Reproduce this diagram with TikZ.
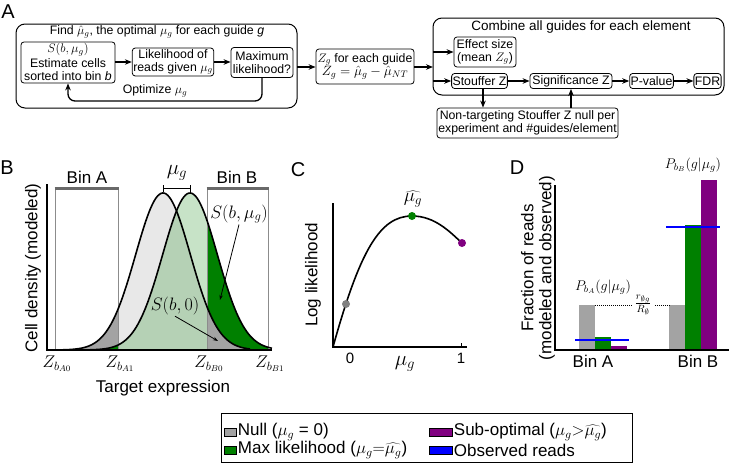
\RequirePackage{fix-cm}
\documentclass[tikz,border=0pt]{standalone}
\usepackage{fontspec}
\setmainfont{Liberation Sans}
\usetikzlibrary{arrows.meta}
\definecolor{dgreen}{RGB}{0,128,0}
\definecolor{dpurple}{RGB}{128,0,128}
\definecolor{mgray}{RGB}{163,163,163}
\definecolor{lgray}{RGB}{232,232,232}
\definecolor{bingray}{RGB}{105,105,105}
\definecolor{vgray}{RGB}{140,140,140}
\newcommand\fsz[2]{\fontsize{#1}{#2}\selectfont}
\begin{document}
\begin{tikzpicture}[x=1pt,y=-1pt,
  box/.style={draw, rounded corners=3pt, line width=0.8pt, align=center, inner sep=1pt, font=\fsz{12.3}{12.8}},
  outerbox/.style={draw, rounded corners=9pt, line width=1pt},
  arr/.style={-{Stealth[length=7pt,width=5.5pt]}, line width=1.3pt},
  thinarr/.style={-{Stealth[length=5pt,width=3.5pt]}, line width=0.8pt},
  plab/.style={font=\fsz{20}{20}},
  axlab/.style={font=\fsz{17}{18}},
  leglab/.style={font=\fsz{17}{17}},
  curve/.style={line width=1.6pt},
  declare function={gA(\x)=157*exp(-0.5*((\x-163)/27.4)^2); gB(\x)=157*exp(-0.5*((\x-190)/27.4)^2);}
]
\useasboundingbox (0,0) rectangle (729,463);

% ================= Panel A =================
\node[plab] (labA) at (8,12) {A};
\draw[outerbox] (16,24) rectangle (297,108);
\coordinate (o1e) at (297,67);
\node[font=\fsz{12.3}{13}, inner sep=1pt] (title1) at (157,32) {Find $\hat\mu_g$, the optimal $\mu_g$ for each guide \textit{g}};
\node[box, minimum width=94pt, minimum height=41pt] (est) at (68,62.5) {};
\node[font=\fsz{12.5}{12.5}, inner sep=0pt] (estS) at (68,49.5) {$S(b,\mu_g)$};
\node[font=\fsz{12.3}{12.8}, align=center, inner sep=0pt] (estT) at (68,69.5) {Estimate cells\\sorted into bin \textit{b}};
\node[box, minimum width=80pt, minimum height=28pt] (lik) at (173,62) {Likelihood of\\reads given $\mu_g$};
\node[box, minimum width=62pt, minimum height=30pt] (maxl) at (262,62.5) {Maximum\\likelihood?};
\draw[arr] (est.east |- lik.west) -- (lik.west);
\draw[arr] (lik.east) -- (maxl.west |- lik.east);
\coordinate (fb) at (68,101);
\draw[arr, rounded corners=7pt] (maxl.south) |- (fb) -- (est.south);
\node[font=\fsz{12.3}{13}] (opt) at (155,91) {Optimize $\mu_g$};

\node[box, minimum width=98pt, minimum height=35pt] (zg) at (365,66.5) {$Z_g$ for each guide\\{\fsz{13.5}{14}$Z_g=\hat\mu_g-\hat\mu_{NT}$}};
\draw[arr] (o1e) -- (zg.west |- o1e);

\draw[outerbox] (433,18) rectangle (724,95);
\coordinate (o2w) at (433,67);
\node[font=\fsz{13.5}{14}] (title2) at (581,27) {Combine all guides for each element};
\node[box, minimum width=62pt, minimum height=30pt] (eff) at (485,52) {Effect size\\(mean $Z_g$)};
\node[box, minimum width=51pt, minimum height=15pt] (stz) at (479.5,81) {Stouffer Z};
\node[box, minimum width=82pt, minimum height=15pt] (sig) at (571,81) {Significance Z};
\node[box, minimum width=43pt, minimum height=15pt] (pv) at (651.5,81) {P-value};
\node[box, minimum width=25pt, minimum height=15pt] (fdr) at (707.5,81) {FDR};
\node[box, minimum width=181pt, minimum height=30pt] (nt) at (527.5,123) {Non-targeting Stouffer Z null per\\experiment and \#guides/element};
\draw[arr] (zg.east |- o2w) -- (o2w);
\draw[arr] (o2w |- eff.west) -- (eff.west);
\draw[arr] (o2w |- stz.west) -- (stz.west);
\draw[arr] (stz.east) -- (sig.west);
\draw[arr] (sig.east) -- (pv.west);
\draw[arr] (pv.east) -- (fdr.west);
\draw[arr] ([xshift=3.5pt]stz.south) -- ([xshift=3.5pt]stz.south |- nt.north);
\draw[arr] (sig.south |- nt.north) -- (sig.south);

% ================= Panel B =================
\node[plab] (labB) at (7,168) {B};
\fill[lgray] (118,350) -- plot[domain=118:207,samples=60] (\x,{350-gA(\x)}) -- (207,350) -- cycle;
\fill[dgreen, opacity=0.22] (118,350) -- plot[domain=118:207,samples=60] (\x,{350-gB(\x)}) -- (207,350) -- cycle;
\fill[mgray] (55,350) -- plot[domain=55:118,samples=40] (\x,{350-gA(\x)}) -- (118,350) -- cycle;
\fill[dgreen] (55,350) -- plot[domain=55:118,samples=40] (\x,{350-gB(\x)}) -- (118,350) -- cycle;
\fill[dgreen] (207,350) -- plot[domain=207:268,samples=40] (\x,{350-gB(\x)}) -- (268,350) -- cycle;
\fill[mgray] (207,350) -- plot[domain=207:268,samples=40] (\x,{350-gA(\x)}) -- (268,350) -- cycle;
\draw[vgray, line width=0.8pt] (55,188) -- (55,350) (118,188) -- (118,350) (207,188) -- (207,350) (268,188) -- (268,350);
\draw[bingray, line width=3pt] (54.5,188) -- (118.5,188) (206.5,188) -- (268.5,188);
\draw[curve] plot[domain=50:250,samples=120] (\x,{350-gA(\x)});
\draw[curve] plot[domain=70:272,samples=120] (\x,{350-gB(\x)});
\draw[line width=1.5pt] (47,184) -- (47,350) -- (272,350);
\node[axlab] (binA) at (87,177) {Bin A};
\node[axlab] (binB) at (237,177) {Bin B};
\draw[line width=1pt] (163,185) -- (163,192) (163,188.5) -- (190,188.5) (190,185) -- (190,192);
\node[font=\fsz{21}{21}, inner sep=1pt] (mug) at (177,173) {$\mu_g$};
\node[font=\fsz{18}{18}, inner sep=1pt] (sbmu) at (239,214) {$S(b,\mu_g)$};
\coordinate (sbmuT) at (220,300);
\draw[thinarr] (sbmu.south) -- (sbmuT);
\node[font=\fsz{18}{18}, inner sep=1pt] (sb0) at (175,306) {$S(b,0)$};
\coordinate (sb0T) at (218,341);
\draw[thinarr] (sb0.south) -- (sb0T);
\node[font=\fsz{17}{17}] (zA0) at (57,364) {$Z_{b_{A0}}$};
\node[font=\fsz{17}{17}] (zA1) at (120,364) {$Z_{b_{A1}}$};
\node[font=\fsz{17}{17}] (zB0) at (209,364) {$Z_{b_{B0}}$};
\node[font=\fsz{17}{17}] (zB1) at (270,364) {$Z_{b_{B1}}$};
\node[axlab] (txB) at (163,388) {Target expression};
\node[axlab, rotate=90] (tyB) at (33,268) {Cell density (modeled)};

% ================= Panel C =================
\node[plab] (labC) at (298,170) {C};
\draw[line width=1.5pt] (333,203) -- (333,347) -- (467,347);
\draw[line width=1pt] (461,347) -- (461,343);
\draw[curve] (333,347) .. controls (360,250) and (380,216) .. (412,216) .. controls (435,216) and (450,232) .. (462,243);
\node[circle, fill=gray, inner sep=0pt, minimum size=8pt] (dotG) at (346,304) {};
\node[circle, fill=dgreen, inner sep=0pt, minimum size=8pt] (dotM) at (412,216) {};
\node[circle, fill=dpurple, inner sep=0pt, minimum size=8pt] (dotP) at (462,243) {};
\node[font=\fsz{19}{19}, inner sep=1pt] (muhat) at (413,199) {$\widehat{\mu_g}$};
\node[font=\fsz{15}{15}] (t0) at (350,358) {0};
\node[font=\fsz{15}{15}] (t1) at (461,358) {1};
\node[font=\fsz{21}{21}] (muC) at (405,364) {$\mu_g$};
\node[axlab, rotate=90] (tyC) at (313,275) {Log likelihood};

% ================= Panel D =================
\node[plab] (labD) at (517,168) {D};
\fill[mgray] (579,305) rectangle (595,350);
\fill[dgreen] (595,337) rectangle (611,350);
\fill[dpurple] (611,346) rectangle (627,350);
\fill[mgray] (669,305) rectangle (685,350);
\fill[dgreen] (685,225) rectangle (701,350);
\fill[dpurple] (701,180) rectangle (717,350);
\draw[blue, line width=2.5pt] (575,340) -- (629,340);
\draw[blue, line width=2.5pt] (666,227) -- (720,227);
\draw[line width=1.5pt] (555,185) -- (555,350) -- (729,350);
\node[font=\fsz{15}{15}] (frac) at (643,305) {$\frac{r_{\emptyset g}}{R_\emptyset}$};
\draw[densely dotted, line width=1pt] (595,305) -- (frac.west |- 0,305);
\draw[densely dotted, line width=1pt] (frac.east |- 0,305) -- (669,305);
\node[font=\fsz{14}{14}, inner sep=1pt] (pA) at (603,287) {$P_{b_A}(g|\mu_g)$};
\node[font=\fsz{14}{14}] (pB) at (693,165) {$P_{b_B}(g|\mu_g)$};
\node[axlab] (dbA) at (593,361) {Bin A};
\node[axlab] (dbB) at (698,361) {Bin B};
\node[axlab, rotate=90, align=center] (tyD) at (538,268) {Fraction of reads\\(modeled and observed)};

% ================= Legend =================
\draw[line width=0.8pt] (221,413) rectangle (632,462);
\node[draw, fill=mgray, line width=0.5pt, minimum width=12pt, minimum height=8pt, inner sep=0pt] (sw1) at (230,432) {};
\node[draw, fill=dgreen, line width=0.5pt, minimum width=12pt, minimum height=8pt, inner sep=0pt] (sw2) at (230,450) {};
\node[draw, fill=dpurple, line width=0.5pt, minimum width=23pt, minimum height=8pt, inner sep=0pt] (sw3) at (440.5,432) {};
\node[draw, fill=blue, line width=0.5pt, minimum width=23pt, minimum height=8pt, inner sep=0pt] (sw4) at (440.5,450) {};
\node[leglab, anchor=west, inner sep=0pt, xshift=1.5pt] (lt1) at (sw1.east) {Null ($\mu_g$ = 0)};
\node[leglab, anchor=west, inner sep=0pt, xshift=1.5pt] (lt2) at (sw2.east) {Max likelihood ($\mu_g{=}\widehat{\mu_g}$)};
\node[leglab, anchor=west, inner sep=0pt, xshift=1.5pt] (lt3) at (sw3.east) {Sub-optimal ($\mu_g{>}\widehat{\mu_g}$)};
\node[leglab, anchor=west, inner sep=0pt, xshift=1.5pt] (lt4) at (sw4.east) {Observed reads};
\end{tikzpicture}
\end{document}
